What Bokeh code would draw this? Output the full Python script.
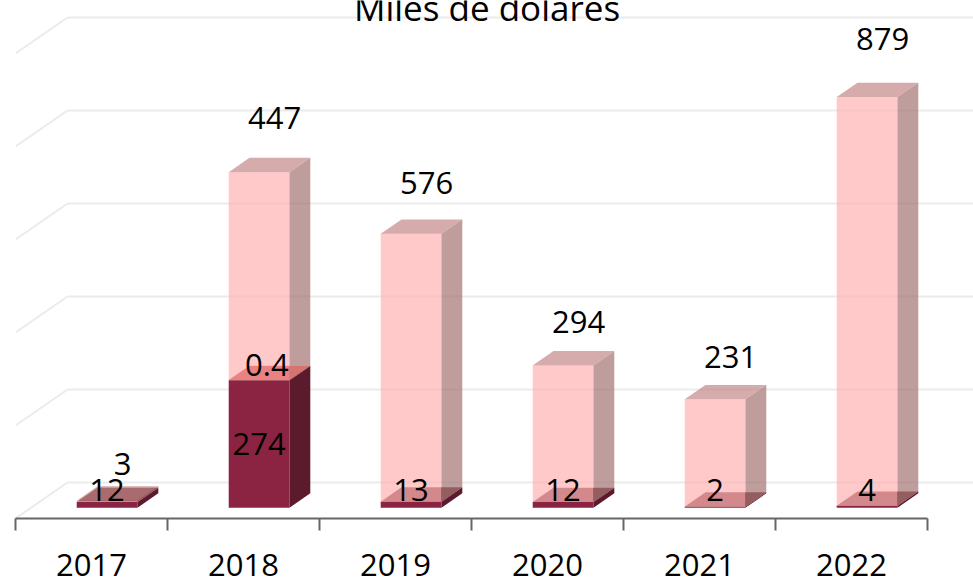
import numpy as np
from bokeh.plotting import figure
from bokeh.models import Range1d, FixedTicker, Label
from bokeh.embed import file_html
from bokeh.resources import INLINE
from bokeh.core.properties import value

# ---------------- data ----------------
years = ["2017", "2018", "2019", "2020", "2021", "2022"]
serie_oscura = [12, 274, 13, 12, 2, 4]        # dark red (bottom)
serie_salmon = [0, 0.4, 0, 0, 0, 0]           # salmon (middle)
serie_rosa = [3, 447, 576, 294, 231, 879]     # light pink (top)
grid_values = [0, 200, 400, 600, 800, 1000]
titulo = "Miles de dólares"

# ---------------- geometry / style ----------------
W, H = 973, 581
LEFT = 15
AXIS_PX = 518          # pixel row of the front x-axis
CAT_PX = 152           # pixel width of one category
Y_SCALE = 0.465        # pixels per unit
DEPTH_DX, DEPTH_DY = 52, 36   # full 3-D depth in pixels
BAR_FRONT, BAR_BACK = 0.3, 0.7
BAR_W = 0.4
FONT = "Open Sans"
FS = "31px"
TITLE_FS = "35px"

DX = DEPTH_DX / CAT_PX
DY = DEPTH_DY / Y_SCALE
x_end = (W - LEFT) / CAT_PX
y_end = AXIS_PX / Y_SCALE

p = figure(frame_width=W - LEFT, frame_height=AXIS_PX,
           x_range=Range1d(0, x_end), y_range=Range1d(0, y_end),
           output_backend="svg", toolbar_location=None,
           min_border_left=LEFT, min_border_right=0, min_border_top=0,
           min_border_bottom=H - AXIS_PX)
p.outline_line_color = None
p.xgrid.visible = False
p.ygrid.visible = False
p.yaxis.visible = False
p.background_fill_color = "white"

# ---------------- 3-D walls / grid ----------------
gv = np.array(grid_values, dtype=float)
p.segment(x0=np.full(len(gv), DX), y0=gv + DY, x1=np.full(len(gv), x_end), y1=gv + DY,
          line_color="#ebebeb", line_width=2)
p.segment(x0=np.zeros(len(gv)), y0=gv, x1=np.full(len(gv), DX), y1=gv + DY,
          line_color="#ebebeb", line_width=2)

# ---------------- bars ----------------
centers = np.arange(len(years)) + 0.5
d = np.array(serie_oscura, dtype=float)
s = np.array(serie_salmon, dtype=float)
r = np.array(serie_rosa, dtype=float)


def faces(bottoms, tops):
    out = {k: [] for k in ("fx", "fy", "sx", "sy", "tx", "ty")}
    fx, fy = BAR_FRONT * DX, BAR_FRONT * DY
    kx, ky = BAR_BACK * DX, BAR_BACK * DY
    for c, lo, hi in zip(centers, bottoms, tops):
        if hi - lo <= 0:
            continue
        xl, xr = c - BAR_W / 2, c + BAR_W / 2
        out["fx"].append([xl + fx, xr + fx, xr + fx, xl + fx])
        out["fy"].append([lo + fy, lo + fy, hi + fy, hi + fy])
        out["sx"].append([xr + fx, xr + kx, xr + kx, xr + fx])
        out["sy"].append([lo + fy, lo + ky, hi + ky, hi + fy])
        out["tx"].append([xl + fx, xr + fx, xr + kx, xl + kx])
        out["ty"].append([hi + fy, hi + fy, hi + ky, hi + ky])
    return out


def draw(fc, front, side, top, alpha):
    p.patches(fc["fx"], fc["fy"], fill_color=front, fill_alpha=alpha, line_color=None)
    p.patches(fc["sx"], fc["sy"], fill_color=side, fill_alpha=alpha, line_color=None)
    p.patches(fc["tx"], fc["ty"], fill_color=top, fill_alpha=alpha, line_color=None)


draw(faces(np.zeros_like(d), d), "#8b2442", "#5c1a2d", "#6c2933", 1.0)
draw(faces(d + s, d + s + r), "#ffb2b2", "#a57373", "#c38787", 0.7)
draw(faces(d, d + s), "#f08080", "#b05a5a", "#f27f7b", 0.7)

# ---------------- data labels ----------------
MIN_LABEL = 38   # units above segment bottom for thin segments
lab_kw = dict(text_font=value(FONT), text_font_size=value(FS), text_color="black",
              text_align="center", text_baseline="middle")

dark_y = np.maximum(d / 2, MIN_LABEL) + BAR_FRONT * DY
p.text(x=centers + BAR_FRONT * DX, y=dark_y, text=[str(v) for v in serie_oscura], **lab_kw)

mask = s > 0
sal_y = np.maximum(d + s / 2, d + 32) + BAR_FRONT * DY
p.text(x=(centers + 0.45 * DX)[mask], y=sal_y[mask],
       text=[str(v) for v, m in zip(serie_salmon, mask) if m], **lab_kw)

tops = d + s + r
front_top_px = AXIS_PX - BAR_FRONT * DEPTH_DY - tops * Y_SCALE
lab_px = front_top_px - (36 + 0.055 * tops * Y_SCALE)
p.text(x=centers + 0.6 * DX, y=(AXIS_PX - lab_px) / Y_SCALE,
       text=[str(v) for v in serie_rosa], **lab_kw)

# ---------------- title (partly cut at the top, as in the reference) ----------------
p.add_layout(Label(x=(W / 2 - LEFT) / CAT_PX, y=(AXIS_PX - 7) / Y_SCALE, text=titulo,
                   text_font=FONT, text_font_size=TITLE_FS, text_color="black",
                   text_align="center", text_baseline="middle"))

# ---------------- x axis ----------------
ax = p.xaxis[0]
ax.bounds = (0, len(years))
ax.ticker = FixedTicker(ticks=list(centers), minor_ticks=list(range(len(years) + 1)))
ax.major_label_overrides = {float(c): y for c, y in zip(centers, years)}
ax.major_tick_in = 0
ax.major_tick_out = 0
ax.minor_tick_in = 0
ax.minor_tick_out = 12
ax.minor_tick_line_color = "#666666"
ax.minor_tick_line_width = 2
ax.axis_line_color = "#666666"
ax.axis_line_width = 2
ax.major_label_text_font = FONT
ax.major_label_text_font_size = FS
ax.major_label_text_color = "black"
ax.major_label_standoff = 23

open("out.html", "w").write(file_html(p, INLINE))
